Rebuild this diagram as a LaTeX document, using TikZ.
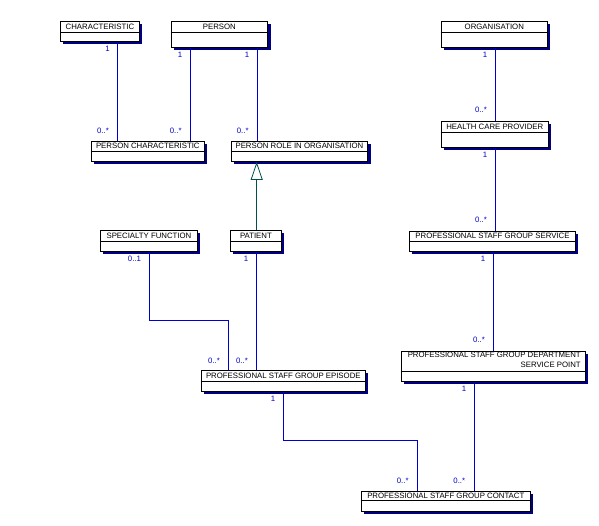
\documentclass[tikz,border=0pt]{standalone}
\usepackage{fontspec}
\setmainfont{Liberation Sans}
\usetikzlibrary{shadows,arrows.meta}
\definecolor{lineblue}{RGB}{0,0,204}
\definecolor{shadenavy}{RGB}{0,0,128}
\definecolor{genteal}{RGB}{0,80,80}
\tikzset{
  cls/.style={draw=black, line width=0.9pt, fill=white, anchor=north west, inner sep=0pt,
    drop shadow={shadow xshift=3pt, shadow yshift=-3pt, fill=shadenavy, opacity=1}},
  boxline/.style={draw=black, line width=0.9pt},
  title/.style={font=\fontsize{7.8}{10}\selectfont, inner sep=0pt, text=black},
  mult/.style={font=\fontsize{7.8}{10}\selectfont, inner sep=0pt, text=lineblue},
  assoc/.style={draw=lineblue, line width=0.8pt},
  gen/.style={draw=genteal, line width=0.8pt, -{Triangle[open, length=18pt, width=12pt, fill=white]}}
}
\newcommand\umlbox[7]{%
  \node[cls, minimum width=#4pt, minimum height=#5pt] (#1) at (#2,#3) {};
  \draw[boxline] ([yshift=-#6pt]#1.north west) -- ([yshift=-#6pt]#1.north east);
  \node[title] (#1-t) at ([yshift=-0.5*#6pt]#1.north) {#7};
}
\begin{document}
\begin{tikzpicture}[x=1pt, y=-1pt]
\useasboundingbox (0,0) rectangle (599,525);
% classes
\umlbox{char}{60}{21}{79}{20}{11}{CHARACTERISTIC}
\umlbox{person}{170.7}{21}{96.5}{26}{11}{PERSON}
\umlbox{pc}{90.7}{141}{113.3}{20}{10}{PERSON CHARACTERISTIC}
\umlbox{prio}{230.7}{141}{136.5}{20}{10}{PERSON ROLE IN ORGANISATION}
\umlbox{org}{440.7}{21}{106.3}{26}{11}{ORGANISATION}
\umlbox{hcp}{440.7}{121}{107.3}{26}{11}{HEALTH CARE PROVIDER}
\umlbox{psgs}{409}{231}{166}{20}{10}{PROFESSIONAL STAFF GROUP SERVICE}
\umlbox{spec}{100}{230}{97}{21}{11}{SPECIALTY FUNCTION}
\umlbox{patient}{230}{230}{51}{21}{11}{PATIENT}
\umlbox{episode}{200.7}{370}{164.3}{21}{11}{PROFESSIONAL STAFF GROUP EPISODE}
\node[cls, minimum width=184.3pt, minimum height=30.3pt] (dsp) at (400.7,350.7) {};
\draw[boxline] ([yshift=-20.3pt]dsp.north west) -- ([yshift=-20.3pt]dsp.north east);
\node[title, align=right, anchor=north east] (dsp-t) at ([xshift=-5pt, yshift=-1.5pt]dsp.north east) {PROFESSIONAL STAFF GROUP DEPARTMENT\\SERVICE POINT};
\umlbox{contact}{360.7}{490.7}{169.3}{20.3}{10}{PROFESSIONAL STAFF GROUP CONTACT}
% connector x positions
\coordinate (xa) at (117.3,0);
\coordinate (xb) at (190.7,0);
\coordinate (xc) at (257.3,0);
\coordinate (xd) at (495.3,0);
\coordinate (xe) at (493.3,0);
\coordinate (xf) at (256.7,0);
\coordinate (xg) at (149.3,0);
\coordinate (xh) at (228.3,0);
\coordinate (xi) at (256,0);
\coordinate (xj) at (283.3,0);
\coordinate (xk) at (417.3,0);
\coordinate (xl) at (474.3,0);
\coordinate (ya) at (0,320.7);
\coordinate (yb) at (0,440.3);
% associations
\draw[assoc] (xa |- char.south) -- (xa |- pc.north);
\draw[assoc] (xb |- person.south) -- (xb |- pc.north);
\draw[assoc] (xc |- person.south) -- (xc |- prio.north);
\draw[assoc] (xd |- org.south) -- (xd |- hcp.north);
\draw[assoc] (xd |- hcp.south) -- (xd |- psgs.north);
\draw[assoc] (xe |- psgs.south) -- (xe |- dsp.north);
\draw[assoc] (xg |- spec.south) -- (xg |- ya) -- (xh |- ya) -- (xh |- episode.north);
\draw[assoc] (xi |- patient.south) -- (xi |- episode.north);
\draw[assoc] (xj |- episode.south) -- (xj |- yb) -- (xk |- yb) -- (xk |- contact.north);
\draw[assoc] (xl |- dsp.south) -- (xl |- contact.north);
% generalization
\draw[gen] (xf |- patient.north) -- (xf |- prio.south);
% multiplicities
\node[mult] (m1) at (107.5,49) {1};
\node[mult] (m2) at (103,131) {0..*};
\node[mult] (m3) at (180,55) {1};
\node[mult] (m4) at (175.7,131) {0..*};
\node[mult] (m5) at (247,55) {1};
\node[mult] (m6) at (242.7,131) {0..*};
\node[mult] (m7) at (485,55) {1};
\node[mult] (m8) at (481,110) {0..*};
\node[mult] (m9) at (485,155) {1};
\node[mult] (m10) at (481,219.5) {0..*};
\node[mult] (m11) at (483,259) {1};
\node[mult] (m12) at (479,340) {0..*};
\node[mult] (m13) at (134.5,259) {0..1};
\node[mult] (m14) at (246,259) {1};
\node[mult] (m15) at (214,361) {0..*};
\node[mult] (m16) at (242,361) {0..*};
\node[mult] (m17) at (273,399) {1};
\node[mult] (m18) at (464,389) {1};
\node[mult] (m19) at (402.7,481) {0..*};
\node[mult] (m20) at (459.3,481) {0..*};
\end{tikzpicture}
\end{document}
